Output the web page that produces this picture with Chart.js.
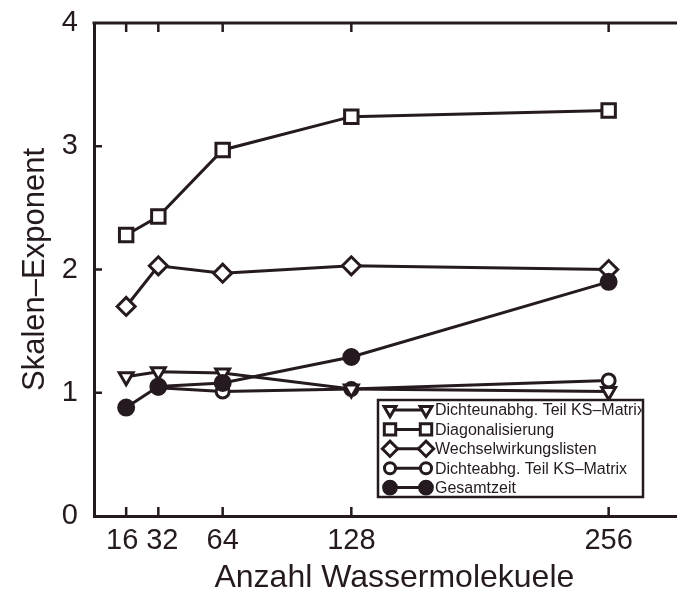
<!DOCTYPE html>
<html>
<head>
<meta charset="utf-8">
<script src="https://cdn.jsdelivr.net/npm/chart.js"></script>
<style>
  html, body { margin: 0; padding: 0; background: #fff; }
  #wrap { width: 677px; height: 594px; }
</style>
</head>
<body>
<div id="wrap"><canvas id="chart" width="677" height="594"></canvas></div>
<script>
// values
const molecules = [16, 32, 64, 128, 256];
const dichteunabh = [1.13, 1.17, 1.16, 1.03, 1.01];
const diagonal = [2.28, 2.43, 2.97, 3.24, 3.29];
const wechsel = [1.70, 2.03, 1.97, 2.03, 2.00];
const dichteabh = [null, 1.04, 1.01, 1.03, 1.10];
const gesamt = [0.88, 1.05, 1.08, 1.29, 1.90];

const seriesNames = [
    "Dichteunabhg. Teil KS\u2013Matrix",
    "Diagonalisierung",
    "Wechselwirkungslisten",
    "Dichteabhg. Teil KS\u2013Matrix",
    "Gesamtzeit"
];
const yTicks = [0, 1, 2, 3, 4];

const ink = "#241a1f";
const font = "'Liberation Sans', Arial, Helvetica, sans-serif";

function toPoints(vals) {
    const pts = [];
    molecules.forEach((m, i) => {
        if (vals[i] !== null) pts.push({ x: m, y: vals[i] });
    });
    return pts;
}

function makeSet(label, vals, style, extra) {
    return Object.assign({
        label: label,
        data: toPoints(vals),
        showLine: true,
        borderColor: ink,
        borderWidth: 3,
        pointStyle: style,
        pointRadius: 7,
        pointBorderWidth: 3,
        pointBorderColor: ink,
        pointBackgroundColor: "#fff",
        order: 1
    }, extra || {});
}

const datasets = [
    makeSet(seriesNames[0], dichteunabh, "triangle", { pointRotation: 180, pointRadius: 8 }),
    makeSet(seriesNames[1], diagonal, "rect", { pointRadius: 9.5 }),
    makeSet(seriesNames[2], wechsel, "rectRot", { pointRadius: 9 }),
    makeSet(seriesNames[3], dichteabh, "circle", { pointRadius: 6.5 }),
    makeSet(seriesNames[4], gesamt, "circle", { pointRadius: 7.5, pointBackgroundColor: ink, order: 0 })
];

// inward ticks on left, bottom and top, plus the top frame line
const frameTicks = {
    id: "frameTicks",
    afterDraw(chart) {
        const ctx = chart.ctx;
        const area = chart.chartArea;
        const xs = chart.scales.x;
        const ys = chart.scales.y;
        ctx.save();
        ctx.strokeStyle = ink;
        ctx.lineWidth = 3;
        ctx.beginPath();
        ctx.moveTo(area.left - 1.5, area.top);
        ctx.lineTo(area.right, area.top);
        ctx.stroke();
        ctx.lineWidth = 2.5;
        molecules.forEach(m => {
            const px = xs.getPixelForValue(m);
            ctx.beginPath();
            ctx.moveTo(px, area.bottom);
            ctx.lineTo(px, area.bottom - 9);
            ctx.moveTo(px, area.top);
            ctx.lineTo(px, area.top + 9);
            ctx.stroke();
        });
        yTicks.slice(1, -1).forEach(v => {
            const py = ys.getPixelForValue(v);
            ctx.beginPath();
            ctx.moveTo(area.left, py);
            ctx.lineTo(area.left + 8, py);
            ctx.stroke();
        });
        ctx.restore();
    }
};

// boxed legend, each entry a line with a marker at both ends
const boxLegend = {
    id: "boxLegend",
    afterDatasetsDraw(chart) {
        const ctx = chart.ctx;
        const left = 378, top = 400, right = 643, bottom = 497;
        const rowH = 19.4;
        ctx.save();
        ctx.fillStyle = "#fff";
        ctx.fillRect(left, top, right - left, bottom - top);
        ctx.strokeStyle = ink;
        ctx.lineWidth = 2.5;
        ctx.strokeRect(left, top, right - left, bottom - top);
        ctx.beginPath();
        ctx.rect(left, top, right - left - 1.5, bottom - top);
        ctx.clip();
        chart.data.datasets.forEach((ds, i) => {
            const y = top + 10 + i * rowH;
            const x1 = 390, x2 = 426;
            ctx.strokeStyle = ink;
            ctx.lineWidth = 3;
            ctx.beginPath();
            ctx.moveTo(x1, y);
            ctx.lineTo(x2, y);
            ctx.stroke();
            const opts = {
                pointStyle: ds.pointStyle,
                rotation: ds.pointRotation || 0,
                radius: ds.pointRadius * 0.85,
                borderWidth: 3
            };
            ctx.fillStyle = ds.pointBackgroundColor;
            ctx.strokeStyle = ink;
            ctx.lineWidth = 3;
            [x1, x2].forEach(x => Chart.helpers.drawPoint(ctx, opts, x, y));
            ctx.fillStyle = ink;
            ctx.font = "16px " + font;
            ctx.textBaseline = "middle";
            ctx.textAlign = "left";
            ctx.fillText(ds.label, 435, y + 1);
        });
        ctx.restore();
    }
};

new Chart(document.getElementById("chart"), {
    type: "scatter",
    data: { datasets: datasets },
    options: {
        responsive: false,
        animation: false,
        layout: { autoPadding: false, padding: { top: 23, right: 0, left: 0, bottom: 0 } },
        plugins: {
            legend: { display: false },
            tooltip: { enabled: false }
        },
        scales: {
            x: {
                type: "linear",
                min: 0,
                max: 290,
                afterBuildTicks: scale => {
                    scale.ticks = molecules.map(v => ({ value: v }));
                },
                afterFit: scale => {
                    scale.height = 78;
                    scale.paddingLeft = 0;
                    scale.paddingRight = 0;
                },
                grid: { display: false, drawTicks: false },
                border: { display: true, width: 3, color: ink },
                ticks: {
                    color: ink,
                    font: { family: font, size: 29 },
                    padding: 8,
                    maxRotation: 0,
                    autoSkip: false,
                    // nudge the two crowded labels apart like the original
                    callback: v => v === 16 ? "16 " : (v === 32 ? " 32" : String(v))
                },
                title: {
                    display: true,
                    // leading spaces shift it slightly right, as in the original
                    text: "  Anzahl Wassermolekuele",
                    color: ink,
                    font: { family: font, size: 32, lineHeight: 1.0 },
                    padding: { top: 0, bottom: 0 }
                }
            },
            y: {
                min: 0,
                max: 4,
                afterBuildTicks: scale => {
                    scale.ticks = yTicks.map(v => ({ value: v }));
                },
                afterFit: scale => {
                    scale.width = 94;
                    scale.paddingTop = 0;
                    scale.paddingBottom = 0;
                },
                grid: { display: false, drawTicks: false },
                border: { display: true, width: 3, color: ink },
                ticks: {
                    color: ink,
                    font: { family: font, size: 29 },
                    padding: 16
                },
                title: {
                    display: true,
                    text: "Skalen\u2013Exponent",
                    color: ink,
                    font: { family: font, size: 31, lineHeight: 1.0 },
                    padding: { top: 20, bottom: 0 }
                }
            }
        }
    },
    plugins: [frameTicks, boxLegend]
});
</script>
</body>
</html>
